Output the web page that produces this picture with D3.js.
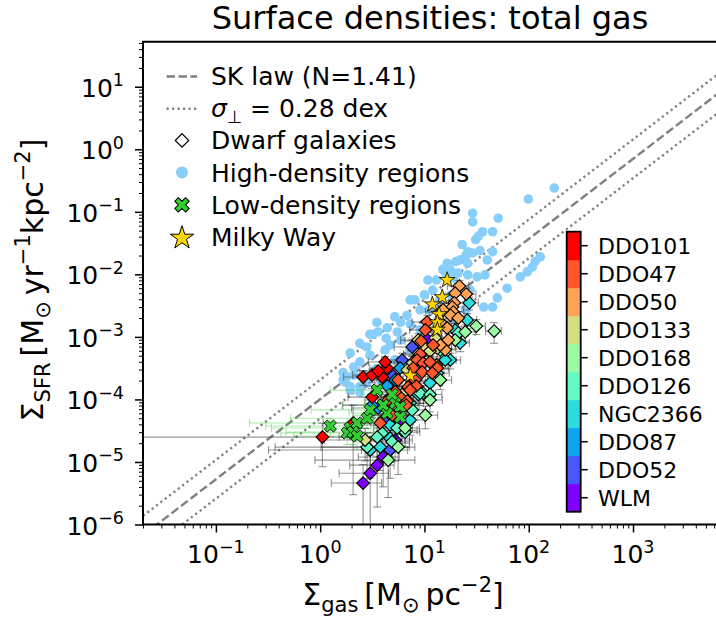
<!DOCTYPE html>
<html>
<head>
<meta charset="utf-8">
<script src="https://cdn.jsdelivr.net/npm/d3@7"></script>
<style>
  body{margin:0;background:#fff;}
  svg text{font-family:"DejaVu Sans",sans-serif;fill:#000;white-space:pre;}
</style>
</head>
<body>
<svg id="chart" width="716" height="621"></svg>
<script>
// ---- axis settings ----
const xDomain=[0.02,6530];
const yDomain=[1e-6,52.5];
const xMajor=[0.1,1,10,100,1000];
const xMajorExp=['−1','0','1','2','3'];
const yMajor=[1e-6,1e-5,1e-4,1e-3,1e-2,1e-1,1,10];
const yMajorExp=['−6','−5','−4','−3','−2','−1','0','1'];

// ---- SK law as drawn: log S_SFR = logA + slope*log S_gas, scatter band +/- dex ----
const skLogA=-3.996, skSlope=1.281, skBand=0.31;

// ---- galaxies (colour bar order bottom -> top) ----
const galaxies=['WLM','DDO52','DDO87','NGC2366','DDO126','DDO168','DDO133','DDO50','DDO47','DDO101'];
const galaxyColors=['#8000ff','#4757fb','#0ea4f0','#2bdddd','#63fbc3','#9cfba4','#d4dd80','#ffa457','#ff572c','#ff0000'];

// dwarf galaxy points: [S_gas, S_SFR, err_gas, err_SFR]
const wlm=[[2.58,4.6e-6,1.3,4.5e-6],[3.02,6.6e-6,1.5,6.2e-6],[3.52,8.9e-6,1.6,7.0e-6],[4.02,1.2e-5,1.7,8e-6],[5.85,4.5e-5,2.0,1.5e-5],[10.6,9.25e-4,3.0,2.5e-4],
  [8.14,4.27e-4,2.6,1.2e-4],[5.24,2.24e-5,2.4,1.2e-5]];
const ddo52=[[7.62,6.9e-4,2.5,2e-4],[5.01,2.37e-4,1.8,7e-5],[4.69,1.09e-4,1.8,4e-5],[4.69,1.55e-5,2.2,1.0e-5],[6.1,4.27e-4,2.2,1.2e-4],[4.02,4.7e-5,1.9,1.8e-5]];
const ddo87=[[5.85,3.18e-4,2.0,9e-5],[4.39,1.64e-4,1.7,5e-5],[3.6,7.3e-5,1.6,3e-5],[5.24,2.04e-4,1.9,6e-5],[3.15,8.1e-5,1.5,3e-5],[9.1,5.1e-4,2.8,1.4e-4]];
const ngc2366=[[26.9,3.5e-3,6,8e-4],[25.7,1.86e-3,6,5e-4],[22,8.0e-4,5,2.2e-4],[13.3,2.64e-4,4,8e-5],[11.3,1.83e-4,3.5,5e-5],[9.72,1.26e-4,3,4e-5],[7.29,8.75e-5,2.5,3e-5],[7.29,4.7e-5,2.8,2e-5],[5.47,5.6e-5,2.2,2.2e-5],[4.69,3.9e-5,2.2,1.6e-5],[4.69,2.4e-5,2.5,1.2e-5],[3.77,1.73e-5,3.4,1.0e-5],[3.02,1.55e-5,2.7,1.0e-5],[17.7,4.27e-4,4.5,1.2e-4],
  [15.8,4.27e-4,4.3,1.2e-4],[8.71,1.2e-4,2.8,4e-5],[6.1,3.2e-5,2.4,1.4e-5],[19.7,1.29e-3,5,3.5e-4]];
const ddo126=[[21.1,1.15e-3,5,3e-4],[9.1,1.26e-4,3,4e-5],[6.53,3.0e-5,2.5,1.3e-5],[3.93,2.9e-5,2.0,1.4e-5],[3.52,2.5e-5,2.0,1.3e-5],[5.47,3.5e-5,2.2,1.4e-5],[2.82,1.73e-5,1.8,1.2e-5],[14.2,6.2e-4,4,1.8e-4],
  [11.3,1.2e-4,3.4,4e-5],[7.62,6.8e-5,2.6,2.5e-5],[4.9,2.1e-5,2.3,1.1e-5]];
const ddo168=[[31.4,1.49e-3,7,4e-4],[46.6,1.24e-3,8,4.5e-4],[24.6,1.2e-3,6,3.5e-4],[5.59,1.73e-5,2.5,1.1e-5],[4.49,1.07e-5,3.6,8e-6],[6.53,3.5e-5,2.4,1.5e-5],[19.7,8.9e-4,5,2.5e-4],[11.3,9.8e-5,3.5,3.5e-5],
  [10.2,5.6e-5,3.2,2.2e-5],[14.2,2.04e-4,4,6e-5]];
const ddo133=[[12.7,9.6e-4,3.5,2.5e-4],[10.2,6.6e-4,3.2,1.8e-4],[13.3,6.6e-4,3.8,1.8e-4],[11.3,5.95e-4,3.4,1.6e-4],[7.62,3.8e-4,2.5,1.1e-4],[6.83,2.95e-4,2.3,9e-5],[2.7,2.24e-5,1.6,1.2e-5],[9.1,4.27e-4,3.0,1.2e-4],
  [8.71,8.9e-4,2.8,2.4e-4],[14.2,2.5e-3,4,6.5e-4],[6.1,1.2e-4,2.2,4e-5]];
const ddo50=[[21.6,6.5e-3,5,1.5e-3],[25.2,4.84e-3,6,1.2e-3],[19.7,5.0e-3,5,1.3e-3],[19.3,3.5e-3,5,9e-4],[18.5,3.0e-3,5,8e-4],[18.9,2.5e-3,5,7e-4],[17.7,2.23e-3,4.5,6e-4],[16.5,1.39e-3,4.5,4e-4],[16.9,8.9e-4,4.5,2.5e-4],[15.8,6.2e-4,4.2,1.8e-4],[14.2,1.73e-3,4,5e-4],[15.1,2.7e-3,4,7e-4],
  [14.2,7.4e-4,4,2e-4],[21.1,2.0e-3,5,5.5e-4],[13,3.55e-4,3.8,1e-4]];
const ddo47=[[10.6,1.73e-3,3,4.5e-4],[9.3,8.6e-4,2.8,2.4e-4],[9.1,5.3e-4,2.8,1.5e-4],[8.5,4.27e-4,2.6,1.2e-4],[9.72,3.8e-4,2.9,1.1e-4],[9.5,2.74e-4,2.9,8e-5],[8.14,2.04e-4,2.6,6e-5],[13.3,3.18e-4,3.8,9e-5],[11.9,2.64e-4,3.5,8e-5],[6.98,1.58e-4,2.3,5e-5],[8.33,1.64e-4,2.6,5e-5],[5.85,1.09e-4,2.0,3.5e-5],[6.83,9.4e-5,2.2,3e-5],[4.9,5.6e-5,1.9,2e-5],[3.77,4.2e-5,1.8,1.7e-5],[7.29,1.41e-4,2.4,4.5e-5],[7.8,3.18e-4,2.5,9e-5],[6.68,8.1e-5,2.2,2.8e-5],[5.59,2.04e-4,1.9,6e-5],[11.3,3.96e-4,3.3,1.1e-4],
  [10.2,1.29e-3,3,3.5e-4],[12.1,7.4e-4,3.5,2e-4],[5.24,1.33e-4,1.9,4e-5],[4.49,9.8e-5,1.8,3.2e-5]];
const ddo101=[[1.05,2.5e-5,1.04,1.66e-5],[2.07,4.2e-5,1.0,3.9e-5],[3.15,1.09e-4,1.3,4e-5],[2.58,2.28e-4,0.9,6e-5],[3.15,2.45e-4,1.1,6e-5],[3.93,2.28e-4,1.3,6e-5],[4.39,3.18e-4,1.4,8e-5],[4.2,3.96e-4,1.3,9e-5],[3.6,2.85e-4,1.2,7e-5]];
const dwarfSets=[wlm,ddo52,ddo87,ngc2366,ddo126,ddo168,ddo133,ddo50,ddo47,ddo101];

// high-density regions: [S_gas, S_SFR]
const highDensity=[[176,0.24],[99,0.16],[29,0.095],[29,0.069],[51,0.079],[36,0.048],[45,0.048],[31,0.036],[33,0.041],[26,0.023],
  [25,0.020],[22,0.017],[29,0.022],[34,0.024],[45,0.023],[26,0.015],[20,0.016],[17,0.0126],[16,0.0105],[19,0.0087],
  [13,0.0081],[26,0.0098],[32,0.0091],[38,0.0098],[129,0.019],[115,0.016],[108,0.013],[97,0.011],[83,0.0091],[62,0.006],
  [50,0.0042],[45,0.0030],[37,0.0030],[12,0.0056],[7.3,0.0039],[5.2,0.0021],[6.8,0.0022],[3.5,0.0017],[4.4,0.0014],[5.9,0.0017],
  [3.0,0.0011],[3.6,0.0012],[2.4,7.9e-4],[1.94,5.5e-4],[2.1,3.3e-4],[1.66,2.05e-4],[1.66,2.7e-4],[2.1,2.45e-4],[1.94,1.6e-4],[2.4,1.6e-4],
  [2.8,1.8e-4],[3.2,0.0011],[4.3,9.5e-4],[4.7,7.4e-4],[2.8,6.9e-4],[3.0,5.1e-4],[2.4,4.0e-4],[1.8,2.3e-4],[1.74,1.9e-4],[1.94,1.4e-4],
  [2.4,1.3e-4],[5.5,1.2e-3],[16.5,0.015],[15,0.012],[21,0.0105],[8.1,0.0039],[10,0.0047],[9.1,0.0027],[7.3,0.0016],[9.1,0.0013],
  [5.9,8.9e-4],[7.3,6.2e-4],[5.2,4.3e-4],[4.2,3.2e-4],[11,0.0027],[18,0.0047],[22,0.0056],[14,0.0039],[25,0.0027],[20,0.0019],
  [27.5,0.0056],[10.8,0.0081],[4.2,6.2e-4],[3.4,3.0e-4],[3.8,2.0e-4],[2.7,2.45e-4],[17.7,0.0118],[23,0.03],[40,0.017],[21,0.0066]];

// low-density regions: [S_gas, S_SFR, err_gas, err_SFR]
const lowDensity=[[1.25,3.75e-5,0.95,1.2e-5],[1.94,3.5e-5,1.6,1.2e-5],[2.26,4.2e-5,2.05,1.4e-5],[2.82,5.0e-5,2.3,1.6e-5],[3.52,1.41e-4,2.27,3e-5],
  [4.39,6.05e-5,2.5,1.8e-5],[1.82,2.9e-5,1.4,1.0e-5],[2.07,3.0e-5,1.6,1.1e-5],[5.24,8.75e-5,2.6,2.5e-5],[5.85,7.6e-5,2.8,2.2e-5],
  [5.85,5.2e-5,2.8,1.7e-5],[2.26,2.6e-5,1.7,1e-5],[3.02,6.8e-5,2.2,2e-5],[4.02,8.1e-5,2.4,2.3e-5],[4.9,1.2e-4,2.4,3e-5]];

// Milky Way: [S_gas, S_SFR]
const milkyWay=[[16.5,8.1e-3],[14.8,4.3e-3],[11.9,3.3e-3],[13.8,2.3e-3],[13.3,1.7e-3],[13.3,1.3e-3],[7.3,2.4e-4]];

// ---- drawing ----
const svg=d3.select('#chart');
const plot={left:143,right:718,top:41.7,bottom:524.5};
const x=d3.scaleLog().domain(xDomain).range([plot.left,plot.right]);
const y=d3.scaleLog().domain(yDomain).range([plot.bottom,plot.top]);

// rich text: parts [{t, sub, sup, it}]
function rich(sel,parts,fs){
  let shift=0;
  parts.forEach(p=>{
    const target=p.sup?-0.42*fs:p.sub?0.22*fs:0;
    sel.append('tspan').attr('dy',target-shift).attr('font-size',(p.sup||p.sub)?fs*0.7:fs)
      .attr('font-style',p.it?'italic':null).text(p.t);
    shift=target;
  });
  return sel;
}

svg.append('defs').append('clipPath').attr('id','clip').append('rect')
  .attr('x',plot.left).attr('y',plot.top).attr('width',plot.right-plot.left).attr('height',plot.bottom-plot.top);
const g=svg.append('g').attr('clip-path','url(#clip)');

// SK law lines
const skLine=off=>d3.line()(xDomain.map(v=>[x(v),y(Math.pow(10,skLogA+off)*Math.pow(v,skSlope))]));
g.append('path').attr('d',skLine(0)).attr('fill','none').attr('stroke','#808080').attr('stroke-width',2.4).attr('stroke-dasharray','8.5,3.5');
[skBand,-skBand].forEach(o=>g.append('path').attr('d',skLine(o)).attr('fill','none').attr('stroke','#808080')
  .attr('stroke-width',2.4).attr('stroke-dasharray','2.2,3.3'));

// high-density points
g.append('g').selectAll('circle').data(highDensity).join('circle')
  .attr('cx',d=>x(d[0])).attr('cy',d=>y(d[1])).attr('r',4.8).attr('fill','#87cefa');

// error bar segments
function errSegs(pts){
  const cap=4, segs=[];
  pts.forEach(([vx,vy,ex,ey])=>{
    const cx=x(vx), cy=y(vy);
    const xl=vx-ex>0?x(vx-ex):-2000, xr=x(vx+ex);
    const yl=vy-ey>0?y(vy-ey):3000, yu=y(vy+ey);
    segs.push([xl,cy,xr,cy],[cx,yl,cx,yu]);
    if(xl>-2000) segs.push([xl,cy-cap,xl,cy+cap]);
    segs.push([xr,cy-cap,xr,cy+cap],[cx-cap,yu,cx+cap,yu]);
    if(yl<3000) segs.push([cx-cap,yl,cx+cap,yl]);
  });
  return segs;
}
function drawSegs(segs,color,op){
  g.append('g').attr('stroke',color).attr('stroke-opacity',op).attr('stroke-width',1.1)
    .selectAll('line').data(segs).join('line')
    .attr('x1',d=>d[0]).attr('y1',d=>d[1]).attr('x2',d=>d[2]).attr('y2',d=>d[3]);
}
drawSegs(errSegs(lowDensity),'#32cd32',0.4);
drawSegs(errSegs(dwarfSets.flat()),'#303030',0.5);

// dwarf diamonds
const diamond=d3.symbol(d3.symbolSquare,80)();
dwarfSets.forEach((set,i)=>{
  g.append('g').selectAll('path').data(set).join('path')
    .attr('d',diamond).attr('transform',d=>`translate(${x(d[0])},${y(d[1])}) rotate(45)`)
    .attr('fill',galaxyColors[i]).attr('stroke','#000').attr('stroke-width',1.1);
});

// low-density X markers
const xMark=d3.symbol(d3.symbolCross,95)();
g.append('g').selectAll('path').data(lowDensity).join('path')
  .attr('d',xMark).attr('transform',d=>`translate(${x(d[0])},${y(d[1])}) rotate(45)`)
  .attr('fill','#32cd32').attr('stroke','#000').attr('stroke-width',0.8);

// Milky Way stars
const star=d3.symbol(d3.symbolStar,78)();
g.append('g').selectAll('path').data(milkyWay).join('path')
  .attr('d',star).attr('transform',d=>`translate(${x(d[0])},${y(d[1])})`)
  .attr('fill','#ffd700').attr('stroke','#000').attr('stroke-width',0.8);

// ---- axes ----
const minorX=x.ticks().filter(v=>!xMajor.some(m=>Math.abs(m-v)/m<1e-6));
const minorY=y.ticks().filter(v=>!yMajor.some(m=>Math.abs(m-v)/m<1e-6));
const axB=svg.append('g').attr('transform',`translate(0,${plot.bottom})`);
axB.append('g').call(d3.axisBottom(x).tickValues(minorX).tickSize(4).tickFormat('')).call(a=>a.selectAll('line').attr('stroke-width',1));
axB.append('g').call(d3.axisBottom(x).tickValues(xMajor).tickSize(8).tickFormat('')).call(a=>a.selectAll('line').attr('stroke-width',1.5));
axB.selectAll('.domain').remove();
const axL=svg.append('g').attr('transform',`translate(${plot.left},0)`);
axL.append('g').call(d3.axisLeft(y).tickValues(minorY).tickSize(4).tickFormat('')).call(a=>a.selectAll('line').attr('stroke-width',1));
axL.append('g').call(d3.axisLeft(y).tickValues(yMajor).tickSize(8).tickFormat('')).call(a=>a.selectAll('line').attr('stroke-width',1.5));
axL.selectAll('.domain').remove();

// spines
svg.append('path').attr('d',`M${plot.right},${plot.top}H${plot.left}V${plot.bottom}H${plot.right}`)
  .attr('fill','none').attr('stroke','#000').attr('stroke-width',2);

// tick labels
const tickFs=25;
xMajor.forEach((v,i)=>rich(svg.append('text').attr('x',x(v)).attr('y',563).attr('text-anchor','middle'),
  [{t:'10'},{t:xMajorExp[i],sup:true}],tickFs));
yMajor.forEach((v,i)=>rich(svg.append('text').attr('x',124).attr('y',y(v)+10).attr('text-anchor','end'),
  [{t:'10'},{t:yMajorExp[i],sup:true}],tickFs));

// axis labels and title
rich(svg.append('text').attr('x',403).attr('y',605).attr('text-anchor','middle'),
  [{t:'Σ'},{t:'gas',sub:true},{t:'\u2009[M'},{t:'⊙',sub:true},{t:'\u2009pc'},{t:'−2',sup:true},{t:']'}],30);
rich(svg.append('text').attr('transform','translate(43,280) rotate(-90)').attr('text-anchor','middle'),
  [{t:'Σ'},{t:'SFR',sub:true},{t:'\u2009[M'},{t:'⊙',sub:true},{t:'\u2009yr'},{t:'−1',sup:true},{t:'kpc'},{t:'−2',sup:true},{t:']'}],30);
svg.append('text').attr('x',430).attr('y',29).attr('text-anchor','middle').attr('font-size',32).text('Surface densities: total gas');

// ---- legend ----
const legRows=[85,117.2,149.4,181.6,213.8,246];
const legFs=25, lx=211, hx=182;
const leg=svg.append('g');
leg.append('line').attr('x1',166.5).attr('x2',197).attr('y1',legRows[0]-8.5).attr('y2',legRows[0]-8.5)
  .attr('stroke','#808080').attr('stroke-width',2.4).attr('stroke-dasharray','8.5,3.5');
leg.append('line').attr('x1',166.5).attr('x2',197).attr('y1',legRows[1]-8.5).attr('y2',legRows[1]-8.5)
  .attr('stroke','#808080').attr('stroke-width',2.4).attr('stroke-dasharray','2.2,3.3');
leg.append('path').attr('d',d3.symbol(d3.symbolSquare,90)()).attr('transform',`translate(${hx},${legRows[2]-9}) rotate(45)`)
  .attr('fill','#fff').attr('stroke','#000').attr('stroke-width',1.2);
leg.append('circle').attr('cx',hx).attr('cy',legRows[3]-9).attr('r',6).attr('fill','#87cefa');
leg.append('path').attr('d',d3.symbol(d3.symbolCross,130)()).attr('transform',`translate(${hx},${legRows[4]-9}) rotate(45)`)
  .attr('fill','#32cd32').attr('stroke','#000').attr('stroke-width',1);
leg.append('path').attr('d',d3.symbol(d3.symbolStar,170)()).attr('transform',`translate(${hx},${legRows[5]-8})`)
  .attr('fill','#ffd700').attr('stroke','#000').attr('stroke-width',1);
const legTexts=[
  [{t:'SK law (N=1.41)'}],
  [{t:'σ',it:true},{t:'⊥',sub:true},{t:' = 0.28 dex'}],
  [{t:'Dwarf galaxies'}],
  [{t:'High-density regions'}],
  [{t:'Low-density regions'}],
  [{t:'Milky Way'}]];
legTexts.forEach((p,i)=>rich(leg.append('text').attr('x',lx).attr('y',legRows[i]),p,legFs));

// ---- colour bar ----
const cb=svg.append('g');
const cbX=566.7, cbW=14;
const band=d3.scaleBand().domain(galaxies.slice().reverse()).range([231.7,511.7]);
cb.selectAll('rect.seg').data(galaxies).join('rect').attr('class','seg')
  .attr('x',cbX).attr('y',d=>band(d)).attr('width',cbW).attr('height',band.bandwidth()+0.5)
  .attr('fill',(d,i)=>galaxyColors[i]);
cb.append('rect').attr('x',cbX).attr('y',231.7).attr('width',cbW).attr('height',280)
  .attr('fill','none').attr('stroke','#000').attr('stroke-width',1.8);
cb.selectAll('line').data(galaxies).join('line')
  .attr('x1',cbX+cbW).attr('x2',cbX+cbW+7).attr('y1',d=>band(d)+band.bandwidth()/2).attr('y2',d=>band(d)+band.bandwidth()/2)
  .attr('stroke','#000').attr('stroke-width',1.5);
cb.selectAll('text').data(galaxies).join('text')
  .attr('x',598).attr('y',d=>band(d)+band.bandwidth()/2+8).attr('font-size',22).text(d=>d);
</script>
</body>
</html>
